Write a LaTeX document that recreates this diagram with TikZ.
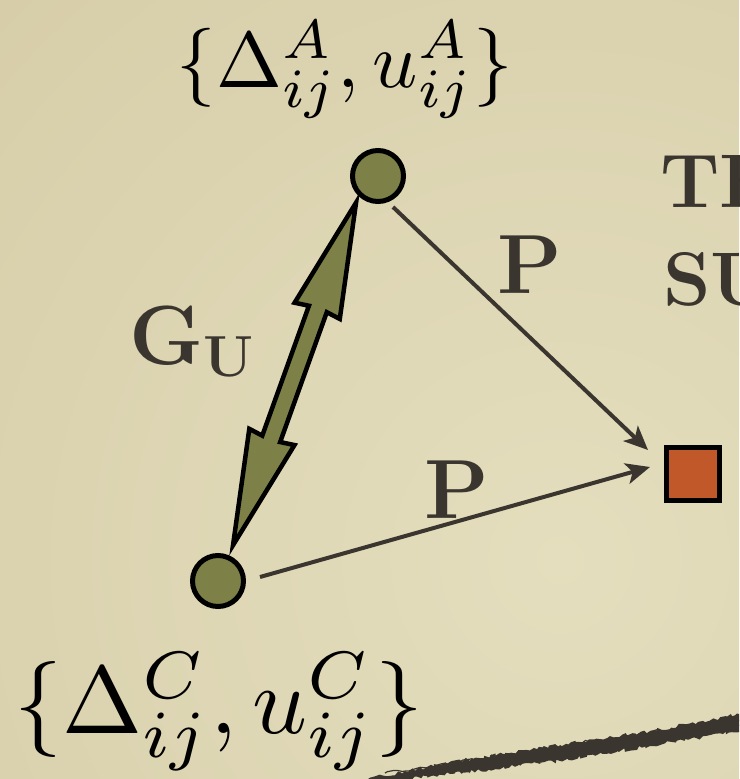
\documentclass[tikz,border=0pt]{standalone}
\usepackage{graphicx}
\usepackage{fontspec}
\usetikzlibrary{arrows.meta,calc,decorations.pathmorphing}
\definecolor{bgdark}{RGB}{203,191,150}
\definecolor{bglight}{RGB}{228,222,190}
\definecolor{olivefill}{RGB}{125,129,72}
\definecolor{sqfill}{RGB}{192,88,42}
\definecolor{ink}{RGB}{58,54,47}
\begin{document}
\begin{tikzpicture}[x=1pt,y=-1pt,
  gnode/.style={circle, draw=black, line width=5pt, fill=olivefill, minimum size=51pt, inner sep=0pt},
  snode/.style={rectangle, draw=black, line width=5pt, fill=sqfill, minimum size=53pt, inner sep=0pt},
  parrow/.style={draw=ink, line width=4pt, -{Stealth[length=24pt, width=21pt, inset=6pt]}},
  fatarrow/.style={draw=black, line width=4.5pt, fill=olivefill, line join=miter, miter limit=12},
  lbl/.style={text=ink, inner sep=0pt},
  mathlbl/.style={text=black, inner sep=0pt, anchor=base},
  brush/.style={fill=ink, decorate, decoration={random steps, segment length=3pt, amplitude=2pt}}
]
\useasboundingbox (0,0) rectangle (739,779);
\clip (0,0) rectangle (739,779);
% background
\shade[inner color=bglight, outer color=bgdark] (560,560) circle (1500);
% brush stroke
\fill[brush] (368,779) -- (450,762) -- (560,745) -- (650,731) -- (745,713)
  -- (745,730) -- (650,746) -- (560,761) -- (450,774) -- (372,784) -- cycle;
\foreach \d in {-3,3} {
  \draw[ink, line width=1.2pt, decorate, decoration={random steps, segment length=4pt, amplitude=2pt}]
    (385,776+\d) -- (745,721+\d);
}
% nodes
\node[gnode] (A) at (378,176) {};
\node[gnode] (C) at (218,581) {};
\node[snode] (S) at (693,474) {};
% thin arrows
\draw[parrow] ($(A)+(15,31)$) -- ($(S)+(-45,-24)$);
\draw[parrow] ($(C)+(42,-4)$) -- ($(S)+(-43,-7)$);
% fat double arrow between C and A
\begin{scope}[shift={($(C)+(14,-33)$)}, rotate=70.24]
\draw[fatarrow] (3pt,0pt) -- (118pt,24pt) -- (116pt,9.5pt) -- (254pt,9.5pt) -- (252pt,24pt)
  -- (367pt,0pt) -- (252pt,-24pt) -- (254pt,-9.5pt) -- (116pt,-9.5pt) -- (118pt,-24pt) -- cycle;
\end{scope}
% labels
\node[mathlbl] (LA) at (345,87)
  {\scalebox{7.9}{$\{\Delta^{A}_{ij},u^{A}_{ij}\}$}};
\node[mathlbl] (LC) at (219,733)
  {\scalebox{9.6}{$\{\Delta^{C}_{ij},u^{C}_{ij}\}$}};
\node[lbl, anchor=base, font=\bfseries\fontsize{84}{84}\selectfont] (P1) at (530,293) {P};
\node[lbl, anchor=base, font=\bfseries\fontsize{84}{84}\selectfont] (P2) at (457,518) {P};
\node[lbl, anchor=base west, font=\bfseries] (GU) at (129,364)
  {\fontsize{84}{84}\selectfont G\raisebox{-12pt}{\fontsize{58}{58}\selectfont U}};
\node[lbl, anchor=base west, font=\bfseries\fontsize{76}{76}\selectfont] (T1) at (660,207) {TH};
\node[lbl, anchor=base west, font=\bfseries\fontsize{76}{76}\selectfont] (T2) at (663,305) {SU};
\end{tikzpicture}
\end{document}
